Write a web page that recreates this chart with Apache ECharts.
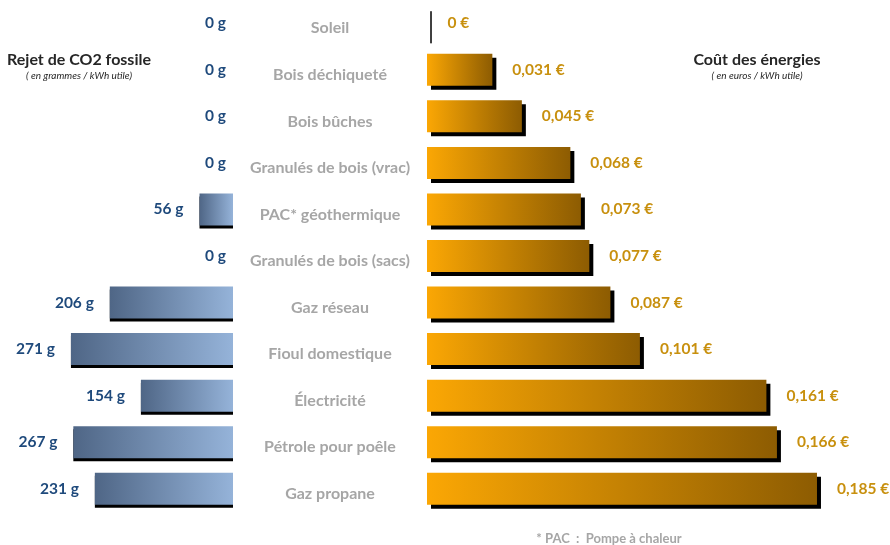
<!DOCTYPE html>
<html>
<head>
<meta charset="utf-8">
<script src="https://cdn.jsdelivr.net/npm/echarts@6/dist/echarts.min.js"></script>
<style>
  html, body { margin: 0; padding: 0; background: #fff; }
  #main { width: 890px; height: 545px; }
</style>
</head>
<body>
<div id="main"></div>
<script>
// energies, top to bottom
var energies = ['Soleil', 'Bois déchiqueté', 'Bois bûches', 'Granulés de bois (vrac)',
    'PAC* géothermique', 'Granulés de bois (sacs)', 'Gaz réseau', 'Fioul domestique',
    'Électricité', 'Pétrole pour poêle', 'Gaz propane'];
// g CO2 / kWh utile
var co2 = [0, 0, 0, 0, 56, 0, 206, 271, 154, 267, 231];
// euros / kWh utile
var cout = [0, 0.031, 0.045, 0.068, 0.073, 0.077, 0.087, 0.101, 0.161, 0.166, 0.185];

var font = 'Lato';

var myChart = echarts.init(document.getElementById('main'));

var blueGrad = new echarts.graphic.LinearGradient(0, 0, 1, 0, [
    { offset: 0, color: '#4f6686' },
    { offset: 1, color: '#95b3d9' }
]);
var orangeGrad = new echarts.graphic.LinearGradient(0, 0, 1, 0, [
    { offset: 0, color: '#fba704' },
    { offset: 1, color: '#8d5c02' }
]);

// les étiquettes des barres nulles restent collées à l'axe
var co2Data = co2.map(function (v) {
    return { value: v, label: { distance: v === 0 ? 7 : 16 } };
});

var coutData = cout.map(function (v) {
    if (v === 0) {
        // le "0 €" du soleil : seule l'ombre reste visible
        return { value: v, itemStyle: { borderColor: '#fff', borderWidth: 1 } };
    }
    return v;
});

myChart.setOption({
    animation: false,
    title: [
        {
            text: 'Rejet de CO2 fossile',
            subtext: '( en grammes / kWh utile)',
            left: 74, top: 47, textAlign: 'center', itemGap: 3,
            textStyle: { fontFamily: font, fontSize: 16, fontWeight: 'bold', color: '#262626' },
            subtextStyle: { fontFamily: font, fontSize: 10, fontStyle: 'italic', color: '#262626' }
        },
        {
            text: 'Coût des énergies',
            subtext: '( en euros / kWh utile)',
            left: 752, top: 47, textAlign: 'center', itemGap: 3,
            textStyle: { fontFamily: font, fontSize: 16, fontWeight: 'bold', color: '#262626' },
            subtextStyle: { fontFamily: font, fontSize: 10, fontStyle: 'italic', color: '#262626' }
        },
        {
            text: '* PAC  :  Pompe à chaleur',
            left: 604, top: 527, textAlign: 'center',
            textStyle: { fontFamily: font, fontSize: 13, fontWeight: 'bold', color: '#a6a6a6' }
        }
    ],
    grid: [
        { left: 53.6, width: 179.4, top: -1, height: 513 },
        { left: 427, width: 421.6, top: -1, height: 513 }
    ],
    xAxis: [
        { gridIndex: 0, type: 'value', min: 0, max: 300, inverse: true, show: false },
        { gridIndex: 1, type: 'value', min: 0, max: 0.2, show: false }
    ],
    yAxis: [
        {
            gridIndex: 0, type: 'category', data: energies, inverse: true,
            axisLine: { show: false }, axisTick: { show: false }, axisLabel: { show: false }
        },
        {
            gridIndex: 1, type: 'category', data: energies, inverse: true,
            axisLine: { show: false }, axisTick: { show: false },
            axisLabel: {
                align: 'center', margin: 97,
                formatter: function (v) { return '{c|' + v + '}'; },
                rich: {
                    c: {
                        lineHeight: 26, verticalAlign: 'bottom',
                        fontFamily: font, fontSize: 16, fontWeight: 'bold', color: '#a6a6a6'
                    }
                }
            }
        }
    ],
    series: [
        {
            type: 'bar', xAxisIndex: 0, yAxisIndex: 0, data: co2Data, barWidth: 32,
            itemStyle: { color: blueGrad, shadowColor: '#000', shadowBlur: 0, shadowOffsetX: 0, shadowOffsetY: 3 },
            label: {
                show: true, position: 'left',
                fontFamily: font, fontSize: 15.5, fontWeight: 'bold', color: '#1f4a7c',
                formatter: function (p) { return p.value + ' g'; }
            }
        },
        {
            type: 'bar', xAxisIndex: 1, yAxisIndex: 1, data: coutData, barWidth: 32,
            itemStyle: { color: orangeGrad, shadowColor: '#000', shadowBlur: 0, shadowOffsetX: 4, shadowOffsetY: 4 },
            label: {
                show: true, position: 'right', distance: 20,
                fontFamily: font, fontSize: 15.5, fontWeight: 'bold', color: '#c8900e',
                formatter: function (p) {
                    var v = p.value;
                    return v === 0 ? '0 €' : v.toFixed(3).replace('.', ',') + ' €';
                }
            }
        }
    ]
});
</script>
</body>
</html>
